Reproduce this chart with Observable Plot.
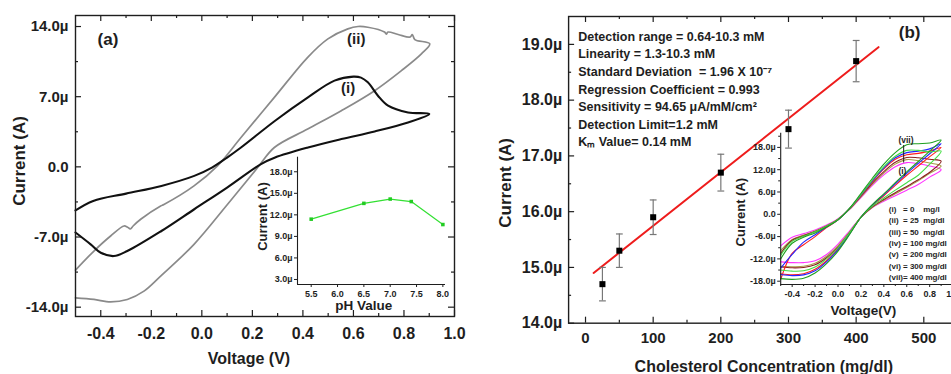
<!DOCTYPE html>
<html>
<head>
<meta charset="utf-8">
<script src="https://cdn.jsdelivr.net/npm/d3@7"></script>
<script src="https://cdn.jsdelivr.net/npm/@observablehq/plot@0.6"></script>
<style>
  html, body { margin: 0; padding: 0; background: #fff; overflow: hidden; }
  #wrap { position: relative; width: 951px; height: 374px; overflow: hidden; background: #fff; }
  #wrap svg { position: absolute; max-width: none; }
</style>
</head>
<body>
<div id="wrap"></div>
<script>
// ---------- Panel (a): cyclic voltammograms ----------
const aVoltage_i = [-0.5, -0.43, -0.3, -0.16, -0.03, 0.04, 0.10, 0.155, 0.29, 0.42, 0.525, 0.6, 0.63, 0.657, 0.697, 0.737, 0.816, 0.9,
                    0.816, 0.684, 0.552, 0.42, 0.29, 0.234, 0.10, -0.03, -0.16, -0.295, -0.348, -0.40, -0.44, -0.5];
const aCurrent_i = [-4.35, -3.4, -2.67, -1.9, -0.9, -0.07, 0.93, 1.93, 4.6, 6.93, 8.6, 9.0, 8.9, 8.43, 7.1, 6.1, 5.43, 5.27,
                    4.43, 3.53, 2.77, 1.93, 0.93, 0.27, -2.07, -4.23, -6.4, -8.4, -8.9, -8.57, -7.73, -6.55];
const aVoltage_ii = [-0.5, -0.427, -0.361, -0.308, -0.295, -0.283, -0.272, -0.242, -0.163, -0.15, -0.031, 0.062, 0.155, 0.287, 0.419, 0.499, 0.578, 0.618, 0.657,
                     0.723, 0.73, 0.737, 0.777, 0.825, 0.833, 0.843, 0.902,
                     0.869, 0.79, 0.684, 0.552, 0.419, 0.287, 0.221, 0.102, -0.031, -0.163, -0.229, -0.295, -0.361, -0.427, -0.5];
const aCurrent_ii = [-10.3, -8.4, -6.9, -5.9, -6.0, -6.2, -5.9, -5.23, -3.9, -3.75, -1.9, 0.1, 2.93, 6.93, 10.93, 12.77, 13.77, 14.0, 13.93,
                     13.45, 13.25, 13.45, 13.2, 12.95, 13.2, 12.7, 12.27,
                     11.27, 9.6, 7.6, 5.6, 3.77, 1.93, -0.07, -3.73, -7.73, -10.9, -12.4, -13.23, -13.47, -13.23, -13.07];
const aCurveLabels = ["(i)", "(ii)"];
const aXTicks = [-0.4, -0.2, 0.0, 0.2, 0.4, 0.6, 0.8, 1.0];
const aXMinor = [-0.3, -0.1, 0.1, 0.3, 0.5, 0.7, 0.9];
const aYTicks = [-14, -7, 0, 7, 14];
const aYMinor = [-10.5, -3.5, 3.5, 10.5];

// ---------- Inset of (a): current vs pH ----------
const phValues = [5.5, 6.5, 7.0, 7.4, 8.0];
const phCurrent = [11.4, 13.6, 14.2, 13.85, 10.65];
const phXTicks = [5.5, 6.0, 6.5, 7.0, 7.5, 8.0];
const phYTicks = [3, 6, 9, 12, 15, 18];

// ---------- Panel (b): calibration ----------
const concentration = [25, 50, 100, 200, 300, 400];
const bCurrent = [14.7, 15.3, 15.9, 16.7, 17.48, 18.7];
const bError = [0.3, 0.3, 0.31, 0.33, 0.34, 0.37];
const fitConc = [12, 433];
const fitCurrent = [14.9, 18.95];
const bXTicks = [0, 100, 200, 300, 400, 500];
const bXMinor = [50, 150, 250, 350, 450];
const bYTicks = [14, 15, 16, 17, 18, 19];
const bYMinor = [14.5, 15.5, 16.5, 17.5, 18.5];
const infoLines = [
  "Detection range = 0.64-10.3 mM",
  "Linearity = 1.3-10.3 mM",
  "Standard Deviation\u00a0 = 1.96 X 10\u207b\u2077",
  "Regression Coefficient = 0.993",
  "Sensitivity = 94.65 \u03bcA/mM/cm\u00b2",
  "Detection Limit=1.2 mM",
  "K\u2098 Value= 0.14 mM"
];

// ---------- Inset of (b): CVs at several concentrations ----------
const cvVoltage = [-0.5, -0.4, -0.3, -0.2, -0.1, 0, 0.1, 0.2, 0.3, 0.4, 0.5, 0.6, 0.7, 0.8, 0.9,
                   0.8, 0.7, 0.6, 0.5, 0.4, 0.3, 0.2, 0.1, 0, -0.1, -0.2, -0.3, -0.4, -0.5];
const cvCurrent_i   = [-8.5, -6.2, -5.2, -4.2, -2.9, -1.2, 1.3, 4.5, 7.8, 10.6, 12.8, 13.9, 13.6, 13.0, 12.0,
                       10.0, 8.0, 6.5, 5.0, 3.5, 1.8, -0.8, -4.5, -8.0, -10.8, -12.5, -13.0, -13.0, -12.8];
const cvCurrent_ii  = [-9.8, -6.8, -5.6, -4.5, -3.1, -1.3, 1.3, 4.7, 8.1, 11.1, 13.5, 14.7, 14.4, 13.8, 13.0,
                       11.0, 9.0, 7.2, 5.5, 3.8, 1.9, -0.8, -4.8, -8.5, -11.3, -13.2, -14.0, -14.1, -14.0];
const cvCurrent_iii = [-10.5, -7.0, -5.8, -4.6, -3.2, -1.4, 1.4, 4.9, 8.4, 11.5, 14.0, 15.3, 15.2, 14.8, 14.3,
                       11.3, 9.3, 7.5, 5.8, 4.0, 2.0, -0.8, -5.0, -8.8, -11.7, -13.6, -14.3, -14.4, -14.2];
const cvCurrent_iv  = [-17.5, -10.5, -8.2, -6.0, -3.6, -1.5, 1.5, 5.1, 8.8, 12.2, 14.8, 16.0, 16.4, 17.0, 18.0,
                       15.5, 13.0, 10.5, 7.8, 5.0, 2.4, -0.8, -5.2, -9.3, -12.5, -14.8, -16.0, -16.3, -16.0];
const cvCurrent_v   = [-14.5, -10.8, -7.5, -5.5, -3.4, -1.5, 1.5, 5.2, 9.0, 12.5, 15.2, 16.6, 17.0, 17.6, 19.0,
                       16.3, 13.7, 11.0, 8.2, 5.3, 2.5, -0.8, -5.3, -9.5, -12.8, -15.2, -16.3, -16.5, -16.2];
const cvCurrent_vi  = [-11.0, -7.3, -5.9, -4.7, -3.2, -1.4, 1.5, 5.3, 9.2, 12.8, 15.6, 17.2, 17.2, 16.8, 17.0,
                       13.5, 10.5, 8.5, 6.5, 4.4, 2.2, -0.8, -5.0, -9.0, -12.0, -14.2, -15.2, -15.3, -15.0];
const cvCurrent_vii = [-12.0, -7.8, -6.2, -5.0, -3.4, -1.5, 1.6, 5.6, 9.7, 13.5, 16.6, 18.7, 19.0, 19.2, 20.0,
                       17.0, 14.2, 11.4, 8.5, 5.5, 2.6, -0.8, -5.5, -9.9, -13.3, -15.8, -17.2, -17.5, -17.3];
const cvSeries = [cvCurrent_i, cvCurrent_ii, cvCurrent_iii, cvCurrent_iv, cvCurrent_v, cvCurrent_vi, cvCurrent_vii];
const cvColors = ["#ff33ff", "#a89a4a", "#8b1f1f", "#ff1f1f", "#2424ff", "#44dd44", "#1f9f1f"];
const cvLegend = [
  "(i)\u00a0\u00a0\u00a0= 0\u00a0\u00a0\u00a0\u00a0mg/l",
  "(ii)\u00a0\u00a0= 25\u00a0\u00a0mg/dl",
  "(iii)\u00a0= 50\u00a0\u00a0mg/dl",
  "(iv)\u00a0= 100 mg/dl",
  "(v)\u00a0\u00a0= 200 mg/dl",
  "(vi)\u00a0= 300 mg/dl",
  "(vii)= 400 mg/dl"
];
const cvXTicks = [-0.4, -0.2, 0.0, 0.2, 0.4, 0.6, 0.8, 1.0];
const cvXMinor = [-0.5, -0.3, -0.1, 0.1, 0.3, 0.5, 0.7, 0.9];
const cvYTicks = [-18, -12, -6, 0, 6, 12, 18];
const cvYMinor = [-15, -9, -3, 3, 9, 15, 21];

// ---------- helpers ----------
const FONT = "'Liberation Sans', Arial, Helvetica, sans-serif";
const INK = "#1e1e1e";
const wrap = document.getElementById("wrap");
const muFmt = v => v === 0 ? "0.0" : v.toFixed(1) + "\u00b5";
const baseStyle = {background: "transparent", fontFamily: FONT, fontWeight: "bold", overflow: "visible", color: INK};
const C = {textAnchor: "middle", lineAnchor: "middle", fontWeight: "bold"};
function place(svg, left, top) {
  svg.style.left = left + "px";
  svg.style.top = top + "px";
  wrap.appendChild(svg);
}
function inTicksY(vals, len, side, pw) {
  const o = {y: d => d, stroke: INK, strokeWidth: 1.2};
  if (side === "left") o.insetRight = pw - len; else o.insetLeft = pw - len;
  return Plot.tickY(vals, o);
}
function inTicksX(vals, len, side, ph) {
  const o = {x: d => d, stroke: INK, strokeWidth: 1.2};
  if (side === "bottom") o.insetTop = ph - len; else o.insetBottom = ph - len;
  return Plot.tickX(vals, o);
}
const capSymbol = {
  draw(context, size) {
    const w = Math.sqrt(size / Math.PI);
    context.moveTo(-w, 0);
    context.lineTo(w, 0);
  }
};

// ---------- Panel (a) ----------
{
  const W = 470, H = 374, mL = 75, mT = 15, mR = 16, mB = 58;
  const pw = W - mL - mR, ph = H - mT - mB;
  const svg = Plot.plot({
    width: W, height: H, marginLeft: mL, marginTop: mT, marginRight: mR, marginBottom: mB,
    style: baseStyle,
    x: {domain: [-0.5, 1.0]},
    y: {domain: [-14.93, 15.1]},
    marks: [
      Plot.line(d3.zip(aVoltage_ii, aCurrent_ii), {stroke: "#8a8a8a", strokeWidth: 1.7, curve: "catmull-rom"}),
      Plot.line(d3.zip(aVoltage_i, aCurrent_i), {stroke: "#111", strokeWidth: 2.1, curve: "catmull-rom"}),
      Plot.frame({stroke: INK, strokeWidth: 1.4}),
      inTicksY(aYTicks, 6, "left", pw), inTicksY(aYMinor, 3, "left", pw),
      inTicksY(aYTicks, 6, "right", pw), inTicksY(aYMinor, 3, "right", pw),
      inTicksX(aXTicks, 6, "bottom", ph), inTicksX(aXMinor, 3, "bottom", ph),
      inTicksX(aXTicks, 6, "top", ph), inTicksX(aXMinor, 3, "top", ph),
      Plot.axisY(aYTicks, {tickSize: 0, tickPadding: 7, tickFormat: muFmt, fontSize: 15, fontWeight: "bold", label: null}),
      Plot.axisX(aXTicks, {tickSize: 0, tickPadding: 11, tickFormat: d => d.toFixed(1), fontSize: 16, fontWeight: "bold", label: null}),
      Plot.text(["Current (A)"], {...C, text: d => d, frameAnchor: "left", rotate: -90, dx: -56, dy: -5, fontSize: 17}),
      Plot.text(["Voltage (V)"], {...C, text: d => d, frameAnchor: "bottom", dx: -16, dy: 42, fontSize: 16}),
      Plot.text(["(a)"], {...C, text: d => d, frameAnchor: "top-left", dx: 32.5, dy: 24, fontSize: 17}),
      Plot.text([aCurveLabels[1]], {...C, text: d => d, x: 0.611, y: 12.7, fontSize: 15}),
      Plot.text([aCurveLabels[0]], {...C, text: d => d, x: 0.579, y: 7.8, fontSize: 15})
    ]
  });
  place(svg, 0, 0);
}

// ---------- Inset of (a) ----------
{
  const W = 215, H = 170, mL = 57, mT = 11.7, mR = 10, mB = 31;
  const xd = [5.24, 8.05], yd = [2.3, 20.03];
  const svg = Plot.plot({
    width: W, height: H, marginLeft: mL, marginTop: mT, marginRight: mR, marginBottom: mB,
    style: baseStyle,
    x: {domain: xd},
    y: {domain: yd},
    marks: [
      Plot.ruleX([xd[0]], {stroke: INK, strokeWidth: 1.1}),
      Plot.ruleY([yd[0]], {stroke: INK, strokeWidth: 1.1}),
      Plot.axisY(phYTicks, {tickSize: 3, tickPadding: 2, tickFormat: muFmt, fontSize: 9, fontWeight: "bold", label: null}),
      Plot.axisX(phXTicks, {tickSize: 3, tickPadding: 3.5, tickFormat: d => d.toFixed(1), fontSize: 9, fontWeight: "bold", label: null}),
      Plot.line(d3.zip(phValues, phCurrent), {stroke: "#33e033", strokeWidth: 1.2}),
      Plot.dot(d3.zip(phValues, phCurrent), {symbol: "square", r: 2, fill: "#22cc22"}),
      Plot.text(["Current (A)"], {...C, text: d => d, frameAnchor: "left", rotate: -90, dx: -34.5, dy: -4.3, fontSize: 13}),
      Plot.text(["pH Value"], {...C, text: d => d, frameAnchor: "bottom", dx: -7.7, dy: 21.5, fontSize: 13.5})
    ]
  });
  place(svg, 240, 145);
}

// ---------- Panel (b) ----------
{
  const W = 487.15, H = 374, mL = 88.1, mT = 16, mR = 10, mB = 51.3;
  const pw = W - mL - mR, ph = H - mT - mB;
  const pts = concentration.map((c, k) => ({c, y: bCurrent[k], e: bError[k]}));
  const svg = Plot.plot({
    width: W, height: H, marginLeft: mL, marginTop: mT, marginRight: mR, marginBottom: mB,
    style: baseStyle,
    x: {domain: [-25, 550]},
    y: {domain: [14, 19.5]},
    marks: [
      Plot.line(d3.zip(fitConc, fitCurrent), {stroke: "#ee1c1c", strokeWidth: 2}),
      Plot.ruleX(pts, {x: "c", y1: d => d.y - d.e, y2: d => d.y + d.e, stroke: "#777", strokeWidth: 1.2}),
      Plot.dot(pts, {x: "c", y: d => d.y + d.e, symbol: capSymbol, r: 3.4, stroke: "#777", strokeWidth: 1.2}),
      Plot.dot(pts, {x: "c", y: d => d.y - d.e, symbol: capSymbol, r: 3.4, stroke: "#777", strokeWidth: 1.2}),
      Plot.dot(pts, {x: "c", y: "y", symbol: "square", r: 3.4, fill: "#000"}),
      Plot.frame({stroke: INK, strokeWidth: 1.4}),
      inTicksY(bYTicks, 6, "left", pw), inTicksY(bYMinor, 3, "left", pw),
      inTicksX(bXTicks, 6, "bottom", ph), inTicksX(bXMinor, 3, "bottom", ph),
      inTicksX(bXTicks, 6, "top", ph), inTicksX(bXMinor, 3, "top", ph),
      Plot.axisY(bYTicks, {tickSize: 0, tickPadding: 6.4, tickFormat: muFmt, fontSize: 16, fontWeight: "bold", label: null}),
      Plot.axisX(bXTicks, {tickSize: 0, tickPadding: 9.6, tickFormat: d => String(d), fontSize: 15, fontWeight: "bold", label: null}),
      Plot.text(["Current (A)"], {...C, text: d => d, frameAnchor: "left", rotate: -90, dx: -63, dy: 13, fontSize: 17}),
      Plot.text(["Cholesterol Concentration (mg/dl)"], {...C, text: d => d, frameAnchor: "bottom", dx: 0.7, dy: 44, fontSize: 16}),
      Plot.text(["(b)"], {...C, text: d => d, frameAnchor: "top-left", dx: 341, dy: 16.5, fontSize: 17}),
      Plot.text([infoLines.join("\n")], {text: d => d, frameAnchor: "top-left", textAnchor: "start", lineAnchor: "top",
        lineHeight: 1.405, dx: 9.6, dy: 11.9, fontSize: 12.5, fontWeight: "bold"})
    ]
  });
  place(svg, 480, 0);
}

// ---------- Inset of (b) ----------
{
  const W = 240, H = 202, mL = 55.2, mT = 10.7, mR = 12.9, mB = 40;
  const xd = [-0.5, 1.0], yd = [-18.89, 21.82];
  const lines = cvSeries.map((s, k) => Plot.line(d3.zip(cvVoltage, s), {stroke: cvColors[k], strokeWidth: 1.1, curve: "catmull-rom"}));
  const svg = Plot.plot({
    width: W, height: H, marginLeft: mL, marginTop: mT, marginRight: mR, marginBottom: mB,
    style: baseStyle,
    x: {domain: xd},
    y: {domain: yd},
    marks: [
      ...lines,
      Plot.ruleX([xd[0]], {stroke: INK, strokeWidth: 1.1}),
      Plot.ruleY([yd[0]], {stroke: INK, strokeWidth: 1.1}),
      Plot.axisY(cvYTicks, {tickSize: 3, tickPadding: 2, tickFormat: muFmt, fontSize: 9, fontWeight: "bold", label: null}),
      Plot.axisY(cvYMinor, {tickSize: 2, tickFormat: () => "", label: null}),
      Plot.axisX(cvXTicks, {tickSize: 3, tickPadding: 3, tickFormat: d => d.toFixed(1), fontSize: 9, fontWeight: "bold", label: null}),
      Plot.axisX(cvXMinor, {tickSize: 2, tickFormat: () => "", label: null}),
      Plot.ruleX([0.573], {y1: 13.8, y2: 18.5, stroke: INK, strokeWidth: 1}),
      Plot.text(["(vii)"], {...C, text: d => d, x: 0.593, y: 19.9, fontSize: 8.5}),
      Plot.text(["(i)"], {...C, text: d => d, x: 0.562, y: 11.5, fontSize: 8.5}),
      Plot.text([cvLegend.join("\n")], {text: d => d, frameAnchor: "top-left", textAnchor: "start", lineAnchor: "top",
        lineHeight: 1.416, dx: 108.1, dy: 70.8, fontSize: 8, fontWeight: "bold"}),
      Plot.text(["Current (A)"], {...C, text: d => d, frameAnchor: "left", rotate: -90, dx: -39.4, dy: 3.3, fontSize: 13}),
      Plot.text(["Voltage(V)"], {...C, text: d => d, frameAnchor: "bottom", dx: -3.2, dy: 26, fontSize: 13.5})
    ]
  });
  place(svg, 725, 122);
}
</script>
</body>
</html>
